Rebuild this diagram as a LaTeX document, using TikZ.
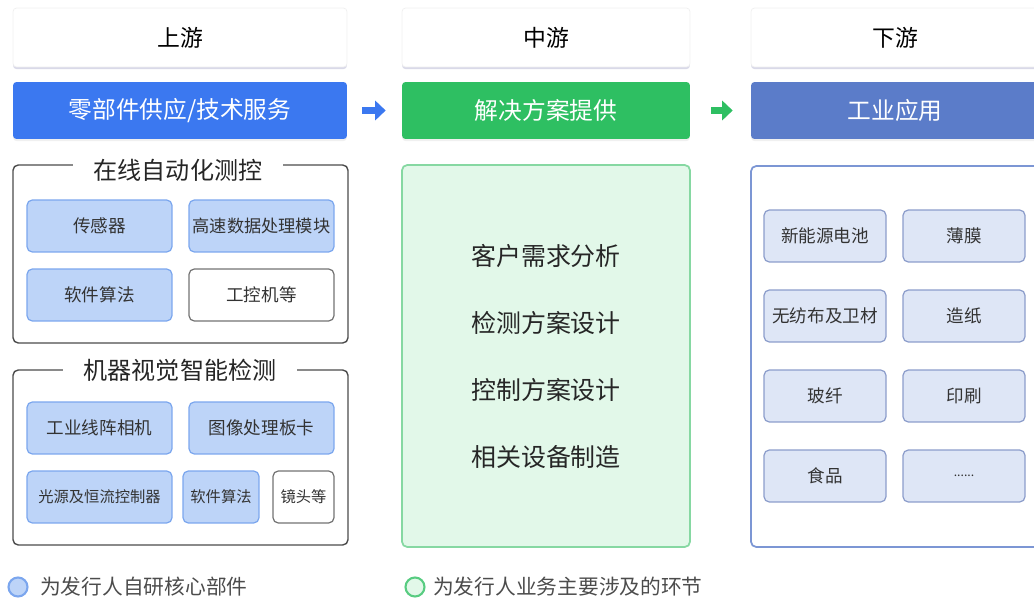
\documentclass[tikz,border=0pt]{standalone}
\usepackage{fontspec}
\setmainfont{Noto Sans CJK SC}
\usetikzlibrary{arrows.meta,positioning,shadows}
\definecolor{upblue}{HTML}{3B78F0}
\definecolor{midgreen}{HTML}{2EBF62}
\definecolor{downblue}{HTML}{5B7CC9}
\definecolor{partfill}{HTML}{BDD4F8}
\definecolor{partline}{HTML}{7BA6EE}
\definecolor{midfill}{HTML}{E2F8E9}
\definecolor{midline}{HTML}{86D8A2}
\definecolor{appfill}{HTML}{DEE6F6}
\definecolor{appline}{HTML}{8C9DCB}
\definecolor{txtgray}{HTML}{333333}
\newcommand{\fs}[1]{\fontsize{#1}{#1}\selectfont}
\tikzset{
  head/.style={draw=black!6, fill=white, rounded corners=2pt, minimum height=1.18cm, font=\fs{13pt},
    drop shadow={shadow xshift=0pt, shadow yshift=-1.2pt, opacity=0.15, fill=blue!40!black}},
  bar/.style={rounded corners=2pt, minimum height=1.14cm, text=white, font=\fs{13.5pt},
    drop shadow={shadow xshift=0pt, shadow yshift=-1.2pt, opacity=0.12}},
  group/.style={draw=black!70, line width=0.8pt, rounded corners=3pt},
  gtitle/.style={fill=white, inner xsep=12pt, font=\fs{13.7pt}, text=black!85},
  part/.style={draw=partline, fill=partfill, rounded corners=3pt, line width=0.7pt, minimum height=1.04cm, text=txtgray, font=\fs{10pt}},
  other/.style={part, draw=black!55, fill=white},
  app/.style={draw=appline, fill=appfill, rounded corners=3pt, line width=0.7pt, minimum width=2.44cm, minimum height=1.04cm, text=txtgray, font=\fs{10pt}},
  flow/.style={draw, line width=4.5pt, -{Triangle[width=11pt,length=6pt]}}
}

\begin{document}
\begin{tikzpicture}[x=0.02cm, y=-0.02cm]
        \clip (0,0) rectangle (1034,601);
        %headers
        \node[head, minimum width=6.68cm] (hup) at (180,37.5) {上游};
        \node[head, minimum width=5.76cm] (hmid) at (546,37.5) {中游};
        \node[head, minimum width=5.76cm] (hdown) at (895,37.5) {下游};
        %bars
        \node[bar, fill=upblue, minimum width=6.68cm] (up) at (180,110.5) {零部件供应/技术服务};
        \node[bar, fill=midgreen, minimum width=5.76cm] (mid) at (546,110.5) {解决方案提供};
        \node[bar, fill=downblue, minimum width=5.76cm] (down) at (895,110.5) {工业应用};
        \path [flow, upblue, shorten <=0.3cm, shorten >=0.32cm] (up) -- (mid);
        \path [flow, midgreen, shorten <=0.42cm, shorten >=0.36cm] (mid) -- (down);

        %upstream: online measurement
        \draw[group] (13,165) rectangle (348,343);
        \node[gtitle] (g1) at (178,170) {在线自动化测控};
        \node[part, minimum width=2.9cm] (a1) at (99.5,226) {传感器};
        \node[part, minimum width=2.9cm, inner xsep=1pt, font=\fs{9.8pt}] (a2) at (261.5,226) {高速数据处理模块};
        \node[part, minimum width=2.9cm] (a3) at (99.5,295) {软件算法};
        \node[other, minimum width=2.9cm] (a4) at (261.5,295) {工控机等};

        %upstream: machine vision
        \draw[group] (13,370) rectangle (348,545);
        \node[gtitle] (g2) at (180,370) {机器视觉智能检测};
        \node[part, minimum width=2.9cm] (b1) at (99.5,428) {工业线阵相机};
        \node[part, minimum width=2.9cm] (b2) at (261.5,428) {图像处理板卡};
        \node[part, minimum width=2.9cm, font=\fs{8.7pt}] (b3) at (99.5,497) {光源及恒流控制器};
        \node[part, minimum width=1.52cm, font=\fs{8.7pt}] (b4) at (221,497) {软件算法};
        \node[other, minimum width=1.22cm, font=\fs{8.7pt}] (b5) at (303.5,497) {镜头等};

        %midstream
        \draw[draw=midline, fill=midfill, line width=1pt, rounded corners=3pt] (402,165) rectangle (690,547);
        \node[font=\fs{14.2pt}, text=black!85] (m1) at (546,256) {客户需求分析};
        \node[font=\fs{14.2pt}, text=black!85] (m2) at (546,323) {检测方案设计};
        \node[font=\fs{14.2pt}, text=black!85] (m3) at (546,390) {控制方案设计};
        \node[font=\fs{14.2pt}, text=black!85] (m4) at (546,457) {相关设备制造};

        %downstream
        \draw[draw=downblue!80, line width=1pt, rounded corners=3pt] (751,166) rectangle (1040,547);
        \node[app] (c1) at (825,236) {新能源电池};
        \node[app] (c2) at (964,236) {薄膜};
        \node[app] (c3) at (825,316) {无纺布及卫材};
        \node[app] (c4) at (964,316) {造纸};
        \node[app] (c5) at (825,396) {玻纤};
        \node[app] (c6) at (964,396) {印刷};
        \node[app] (c7) at (825,476) {食品};
        \node[app, font=\fs{7pt}] (c8) at (964,476) {......};

        %legend
        \node[circle, draw=partline, fill=partfill, line width=1.2pt, minimum size=0.38cm, inner sep=0pt] (l1) at (18,587) {};
        \node[anchor=west, font=\fs{11.8pt}, text=black!70] (l1t) at (34,587) {为发行人自研核心部件};
        \node[circle, draw=midgreen!80, fill=midfill, line width=1.2pt, minimum size=0.38cm, inner sep=0pt] (l2) at (415,587) {};
        \node[anchor=west, font=\fs{11.8pt}, text=black!70] (l2t) at (427,587) {为发行人业务主要涉及的环节};
\end{tikzpicture}
\end{document}
